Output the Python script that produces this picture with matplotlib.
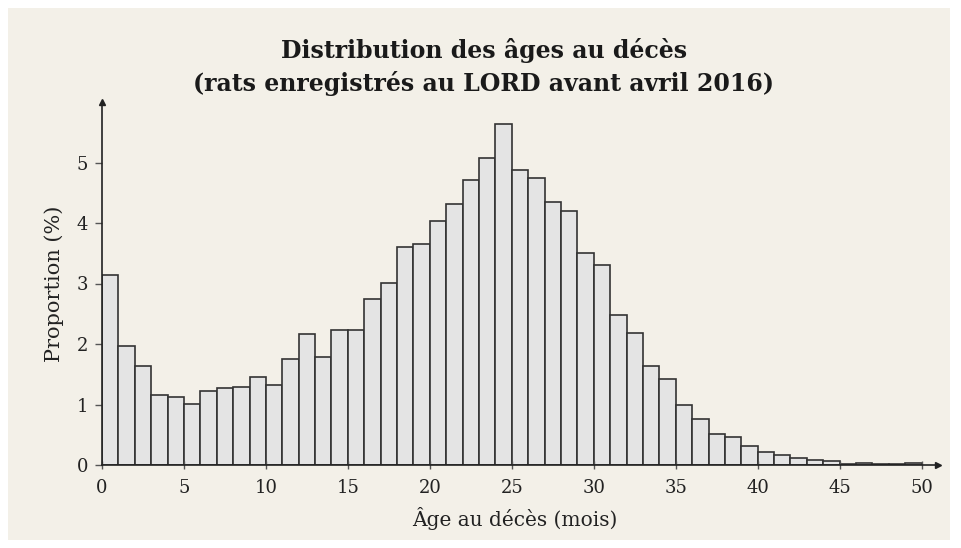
import numpy as np
import matplotlib.pyplot as plt
from matplotlib.patches import Rectangle

# Âge au décès (mois) : début de chaque classe, largeur 1 mois
ages = np.arange(0, 50)
proportion = [3.14, 1.97, 1.64, 1.15, 1.12, 1.01, 1.23, 1.27, 1.29, 1.45,
              1.33, 1.76, 2.17, 1.79, 2.23, 2.23, 2.74, 3.01, 3.61, 3.65,
              4.04, 4.31, 4.71, 5.07, 5.64, 4.87, 4.74, 4.35, 4.20, 3.50,
              3.31, 2.48, 2.18, 1.63, 1.42, 0.99, 0.76, 0.52, 0.47, 0.31,
              0.21, 0.16, 0.12, 0.08, 0.07, 0.02, 0.04, 0.02, 0.02, 0.04]
x_ticks = [0, 5, 10, 15, 20, 25, 30, 35, 40, 45, 50]
y_ticks = [0, 1, 2, 3, 4, 5]

serif = 'DejaVu Serif'
bg = '#f3f0e8'

fig = plt.figure(figsize=(9.62, 5.48), dpi=100, facecolor='white')
fig.patches.append(Rectangle((8/962, 8/548), 942/962, 532/548,
                             transform=fig.transFigure, facecolor=bg,
                             edgecolor='none', zorder=-10))

ax = fig.add_axes([102/962, 1 - 465/548, 836/962, 363/548])
ax.set_facecolor('none')

ax.bar(ages, proportion, width=1, align='edge', color='#e4e4e4',
       edgecolor='#333333', linewidth=1.2)

ax.set_xlim(0, 51)
ax.set_ylim(0, 6)
ax.set_xticks(x_ticks)
ax.set_yticks(y_ticks)

for s in ['top', 'right']:
    ax.spines[s].set_visible(False)
for s in ['left', 'bottom']:
    ax.spines[s].set_color('#222222')
    ax.spines[s].set_linewidth(1.2)

# flèches au bout des axes
ax.plot(1, 0, '>', color='#222222', markersize=5, transform=ax.get_yaxis_transform(), clip_on=False)
ax.plot(0, 1, '^', color='#222222', markersize=5, transform=ax.get_xaxis_transform(), clip_on=False)

ax.tick_params(axis='x', direction='inout', length=6, width=1, color='#555555',
               labelsize=13, pad=7)
ax.tick_params(axis='y', direction='out', length=5, width=1, color='#555555',
               labelsize=13, pad=5)
for lab in ax.get_xticklabels() + ax.get_yticklabels():
    lab.set_fontfamily(serif)
    lab.set_color('#222222')

ax.set_xlabel('Âge au décès (mois)', fontsize=14.5, family=serif, color='#222222')
ax.xaxis.set_label_coords(0.494, -0.115)
ax.set_ylabel('Proportion (%)', fontsize=15, family=serif, color='#222222', labelpad=9)

fig.text(0.503, 1 - 50/548, 'Distribution des âges au décès', ha='center', va='center',
         fontsize=17, fontweight='bold', family=serif, color='#1a1a1a')
fig.text(0.503, 1 - 83/548, '(rats enregistrés au LORD avant avril 2016)', ha='center', va='center',
         fontsize=17, fontweight='bold', family=serif, color='#1a1a1a')

fig.savefig('out.png', dpi=100, facecolor='white')
